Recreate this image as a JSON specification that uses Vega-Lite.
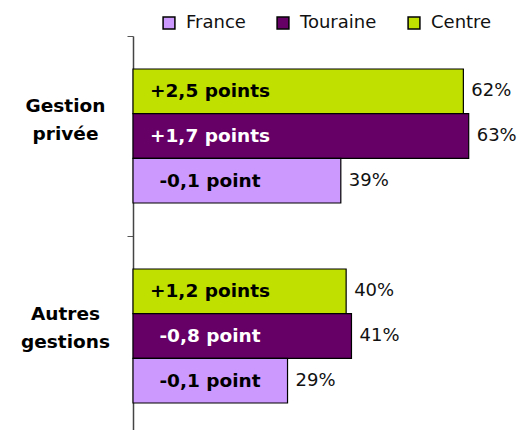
{
  "$schema": "https://vega.github.io/schema/vega-lite/v6.json",
  "autosize": {"type": "none"},
  "padding": {"left": 133, "top": 36, "right": 17, "bottom": 0},
  "width": 373,
  "height": 400,
  "background": "white",
  "config": {
    "view": {"stroke": null},
    "font": "DejaVu Sans"
  },
  "data": {
    "values": [
      {"groupe": "Gestion privée", "serie": "Centre", "valeur": 62, "pct": "62%", "evol": "+2,5 points"},
      {"groupe": "Gestion privée", "serie": "Touraine", "valeur": 63, "pct": "63%", "evol": "+1,7 points"},
      {"groupe": "Gestion privée", "serie": "France", "valeur": 39, "pct": "39%", "evol": "-0,1 point"},
      {"groupe": "Autres gestions", "serie": "Centre", "valeur": 40, "pct": "40%", "evol": "+1,2 points"},
      {"groupe": "Autres gestions", "serie": "Touraine", "valeur": 41, "pct": "41%", "evol": "-0,8 point"},
      {"groupe": "Autres gestions", "serie": "France", "valeur": 29, "pct": "29%", "evol": "-0,1 point"}
    ]
  },
  "encoding": {
    "y": {
      "field": "groupe",
      "type": "nominal",
      "sort": ["Gestion privée", "Autres gestions"],
      "scale": {"paddingInner": 0, "paddingOuter": 0},
      "axis": {
        "title": null,
        "labelExpr": "datum.value == 'Gestion privée' ? ['Gestion', 'privée'] : (datum.value == 'Autres gestions' ? ['Autres', 'gestions'] : '')",
        "labelFont": "DejaVu Sans",
        "labelFontSize": 18.5,
        "labelFontWeight": "bold",
        "labelColor": "black",
        "labelAlign": "center",
        "labelBaseline": "middle",
        "labelLineHeight": 28,
        "labelPadding": 62,
        "labelOffset": {"condition": {"test": "datum.value == 'Gestion privée'", "value": -31}, "value": -23},
        "tickBand": "extent",
        "tickSize": 6,
        "tickColor": "#555555",
        "domainColor": "#444444",
        "domainWidth": 1.5,
        "ticks": true
      }
    },
    "yOffset": {
      "field": "serie",
      "type": "nominal",
      "sort": ["Centre", "Touraine", "France"],
      "scale": {"paddingInner": 0, "paddingOuter": 0.739}
    }
  },
  "layer": [
    {
      "mark": {"type": "bar", "stroke": "black", "strokeWidth": 1.2},
      "encoding": {
        "x": {
          "field": "valeur",
          "type": "quantitative",
          "scale": {"domain": [0, 70], "nice": false},
          "axis": null
        },
        "color": {
          "field": "serie",
          "type": "nominal",
          "scale": {"domain": ["France", "Touraine", "Centre"], "range": ["#CC99FF", "#660066", "#C0E000"]},
          "legend": {
            "title": null,
            "orient": "none",
            "direction": "horizontal",
            "legendX": 27,
            "legendY": -22,
            "symbolType": "square",
            "symbolSize": 140,
            "symbolStrokeColor": "black",
            "symbolStrokeWidth": 1.5,
            "symbolOpacity": 1,
            "labelFont": "DejaVu Sans",
            "labelFontSize": 18,
            "labelColor": "#111111",
            "labelOffset": 8,
            "columnPadding": 28
          }
        }
      }
    },
    {
      "mark": {"type": "text", "align": "center", "baseline": "middle", "dx": 77, "fontWeight": "bold", "fontSize": 18.5, "font": "DejaVu Sans"},
      "encoding": {
        "x": {"datum": 0, "type": "quantitative"},
        "text": {"field": "evol"},
        "color": {
          "condition": {"test": "datum.serie == 'Touraine'", "value": "white"},
          "value": "black"
        }
      }
    },
    {
      "mark": {"type": "text", "align": "left", "baseline": "middle", "dx": 8, "fontSize": 18, "font": "DejaVu Sans", "color": "#111111"},
      "encoding": {
        "x": {"field": "valeur", "type": "quantitative"},
        "text": {"field": "pct"}
      }
    }
  ]
}
